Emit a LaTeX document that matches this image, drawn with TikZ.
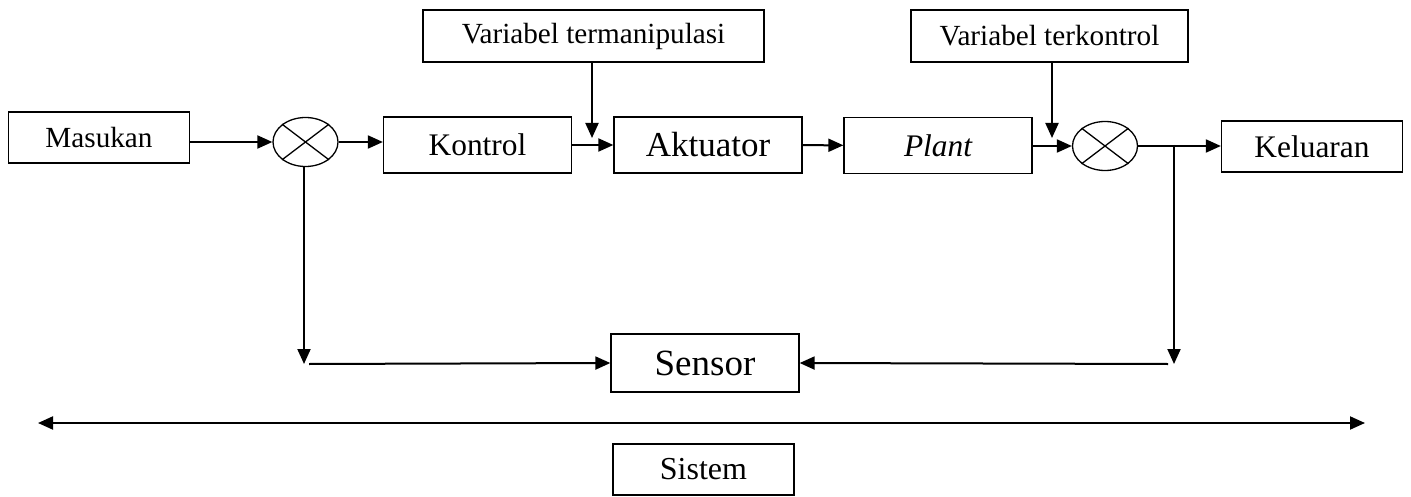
\documentclass[tikz,border=0pt]{standalone}
\usepackage{fontspec}
\setmainfont{Liberation Serif}
\usetikzlibrary{shapes.geometric,calc,arrows.meta,positioning}

\begin{document}
\begin{tikzpicture}[
    x=0.5pt, y=-0.5pt,
    >={Triangle[length=7.5pt,width=6.5pt]},
    box/.style={
        draw,
        line width=0.65pt,
        inner sep=0pt,
        minimum width=94pt,
        minimum height=28pt,
        align=center
    },
    smallbox/.style={
        box,
        minimum width=90.5pt,
        minimum height=25.5pt
    },
    sumpt/.style={
        draw,
        ellipse,
        line width=0.65pt,
        inner sep=0pt,
        minimum width=32.5pt,
        minimum height=24.5pt
    },
    link/.style={->, line width=1pt}
]
\useasboundingbox (0,0) rectangle (1411,497);

\node[smallbox, font=\fontsize{14.6}{16}\selectfont] (masukan) at (99,137.5) {Masukan};
\node[sumpt] (s1) at (305.5,142) {};
\node[box, font=\fontsize{15.7}{17}\selectfont] (kontrol) at (477.5,145) {Kontrol};
\node[box, font=\fontsize{17.5}{19}\selectfont] (aktuator) at (708,145) {Aktuator};
\node[box, font=\fontsize{15.7}{17}\itshape\selectfont] (plant) at (938,145.5) {Plant};
\node[sumpt] (s2) at (1105,146) {};
\node[smallbox, font=\fontsize{15.7}{17}\selectfont] (keluaran) at (1312,146.5) {Keluaran};
\node[box, minimum width=170.5pt, minimum height=26pt, font=\fontsize{14.6}{16}\selectfont] (vtm) at (593.5,36) {Variabel termanipulasi};
\node[box, minimum width=138.5pt, minimum height=26pt, font=\fontsize{14.6}{16}\selectfont] (vtk) at (1049.5,36) {Variabel terkontrol};
\node[box, minimum height=29pt, font=\fontsize{18.5}{20}\selectfont] (sensor) at (705,363) {Sensor};
\node[smallbox, font=\fontsize{16}{18}\selectfont] (sistem) at (703.5,469.5) {Sistem};

% cross in the summing points
\foreach \s in {s1,s2} {
    \draw[line width=0.65pt] (\s.north east) -- (\s.south west);
    \draw[line width=0.65pt] (\s.north west) -- (\s.south east);
}

\coordinate (j1) at (592,138);
\coordinate (j2) at (1052,138);
\coordinate (br) at (1174,145);
\coordinate (fbl) at (304,364);
\coordinate (fbr) at (1174,364);
\coordinate (sysl) at (38,423);
\coordinate (sysr) at (1365,423);

\draw[link] (masukan.east |- s1.west) -- (s1.west);
\draw[link] (s1.east) -- (kontrol.west |- s1.east);
\draw[link] (kontrol) -- (aktuator);
\draw[link] (aktuator) -- (plant);
\draw[link] (plant.east |- s2.west) -- (s2.west);
\draw[link] (s2.east) -- (keluaran.west |- s2.east);
\draw[link] (vtm.south -| j1) -- (j1);
\draw[link] (vtk.south -| j2) -- (j2);

% feedback
\draw[link] (s1.south -| fbl) -- (fbl);
\draw[link] ([xshift=2.5pt]fbl) -- (sensor.west);
\draw[link] (br) -- (fbr);
\draw[link] ([xshift=-3pt]fbr) -- (sensor.east);

\draw[<->, line width=1pt] (sysl) -- (sysr);
\end{tikzpicture}
\end{document}
